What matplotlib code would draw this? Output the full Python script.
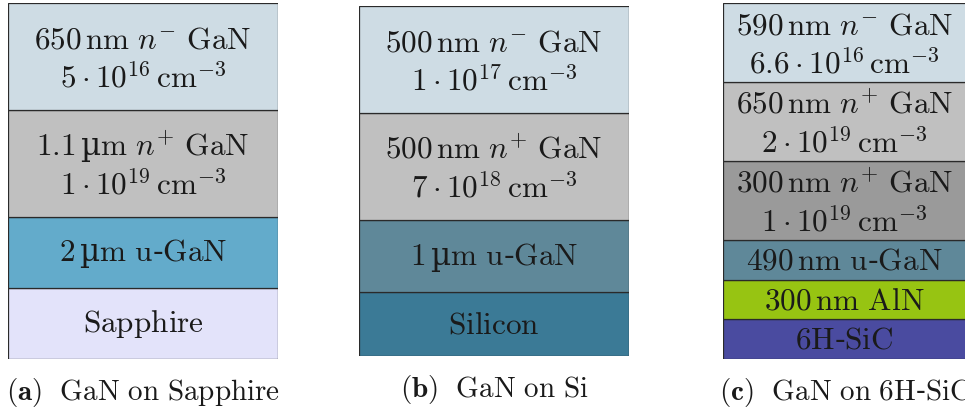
import matplotlib
matplotlib.use("Agg")
import matplotlib.pyplot as plt

plt.rcParams['mathtext.fontset'] = 'cm'
# non-math pieces (µ, hyphen) fall back to a serif with an upright micro sign
plt.rcParams['font.family'] = ['DejaVu Serif']

# layers listed bottom -> top, heights are schematic (drawing units)
sapphire_names = [r"$\mathrm{Sapphire}$",
                  r"$2\,$µ$\mathrm{m}\ \mathrm{u}$-$\mathrm{GaN}$",
                  r"$1.1\,$µ$\mathrm{m}\ n^{+}\ \mathrm{GaN}$",
                  r"$650\,\mathrm{nm}\ n^{-}\ \mathrm{GaN}$"]
sapphire_doping = [None, None,
                   r"$1\cdot 10^{19}\,\mathrm{cm}^{-3}$",
                   r"$5\cdot 10^{16}\,\mathrm{cm}^{-3}$"]
sapphire_heights = [2, 2, 3, 3]
sapphire_colors = ["#e3e3fa", "#63abcb", "#c0c0c0", "#cedce4"]

si_names = [r"$\mathrm{Silicon}$",
            r"$1\,$µ$\mathrm{m}\ \mathrm{u}$-$\mathrm{GaN}$",
            r"$500\,\mathrm{nm}\ n^{+}\ \mathrm{GaN}$",
            r"$500\,\mathrm{nm}\ n^{-}\ \mathrm{GaN}$"]
si_doping = [None, None,
             r"$7\cdot 10^{18}\,\mathrm{cm}^{-3}$",
             r"$1\cdot 10^{17}\,\mathrm{cm}^{-3}$"]
si_heights = [1.8, 2, 3, 3]
si_colors = ["#3b7a96", "#5f8899", "#c0c0c0", "#cedce4"]

sic_names = [r"$6\mathrm{H}$-$\mathrm{SiC}$",
             r"$300\,\mathrm{nm}\ \mathrm{AlN}$",
             r"$490\,\mathrm{nm}\ \mathrm{u}$-$\mathrm{GaN}$",
             r"$300\,\mathrm{nm}\ n^{+}\ \mathrm{GaN}$",
             r"$650\,\mathrm{nm}\ n^{+}\ \mathrm{GaN}$",
             r"$590\,\mathrm{nm}\ n^{-}\ \mathrm{GaN}$"]
sic_doping = [None, None, None,
              r"$1\cdot 10^{19}\,\mathrm{cm}^{-3}$",
              r"$2\cdot 10^{19}\,\mathrm{cm}^{-3}$",
              r"$6.6\cdot 10^{16}\,\mathrm{cm}^{-3}$"]
sic_heights = [1, 1, 1, 2, 2, 2]
sic_colors = ["#4a4ba0", "#97c412", "#5f8899", "#9a9a9a", "#c0c0c0", "#cedce4"]

captions = [r"$\mathbf{(a)}\ \ \mathrm{GaN\ on\ Sapphire}$",
            r"$\mathbf{(b)}\ \ \mathrm{GaN\ on\ Si}$",
            r"$\mathbf{(c)}\ \ \mathrm{GaN\ on\ 6H}$-$\mathrm{SiC}$"]

W, H = 965, 414
fig = plt.figure(figsize=(W / 100, H / 100), dpi=100)

# axes boxes in pixels: left, top, width, height
boxes = [(8, 4, 270, 356), (359, 7, 270, 350), (723, 4, 243, 356)]
stacks = [(sapphire_names, sapphire_doping, sapphire_heights, sapphire_colors),
          (si_names, si_doping, si_heights, si_colors),
          (sic_names, sic_doping, sic_heights, sic_colors)]

fs = 22.5
ink = "#1a1a1a"
for (l, t, w, h), (names, doping, heights, colors), cap in zip(boxes, stacks, captions):
    ax = fig.add_axes([l / W, (H - t - h) / H, w / W, h / H])
    bottom = 0
    for name, dop, hh, c in zip(names, doping, heights, colors):
        ax.bar(0.5, hh, width=1, bottom=bottom, color=c, edgecolor="#2a2a2a", linewidth=0.9)
        mid = bottom + hh / 2
        if dop is None:
            ax.annotate(name, (0.5, mid), xytext=(0, 0), textcoords="offset points",
                        ha="center", va="center", fontsize=fs, color=ink)
        else:
            ax.annotate(name, (0.5, mid), xytext=(0, 12.5), textcoords="offset points",
                        ha="center", va="center", fontsize=fs, color=ink)
            ax.annotate(dop, (0.5, mid), xytext=(0, -16), textcoords="offset points",
                        ha="center", va="center", fontsize=fs, color=ink)
        bottom += hh
    ax.set_xlim(0, 1)
    ax.set_ylim(0, bottom)
    ax.axis("off")
    ax.annotate(cap, xy=(0.5, 0), xycoords="axes fraction", xytext=(0, -23.5),
                textcoords="offset points", ha="center", va="center", fontsize=21,
                color=ink)

fig.savefig("out.png", dpi=100)
